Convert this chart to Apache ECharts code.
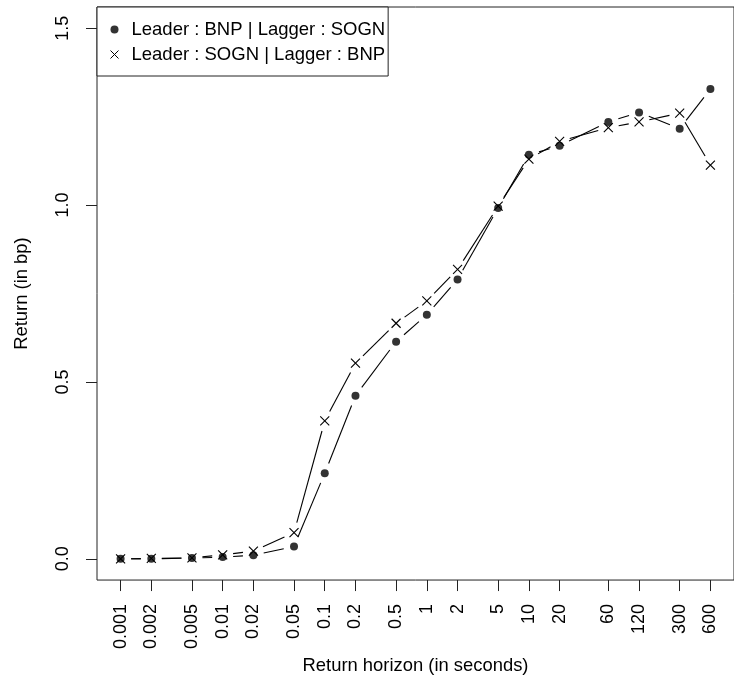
<!DOCTYPE html>
<html>
<head>
<meta charset="utf-8">
<script src="https://cdn.jsdelivr.net/npm/echarts@6/dist/echarts.min.js"></script>
<style>
html,body{margin:0;padding:0;background:#fff;}
#chart{width:734px;height:680px;}
</style>
</head>
<body>
<div id="chart"></div>
<script>
// ---- data ----
const horizons = [0.001, 0.002, 0.005, 0.01, 0.02, 0.05, 0.1, 0.2, 0.5, 1, 2, 5, 10, 20, 60, 120, 300, 600];
const horizonLabels = ["0.001","0.002","0.005","0.01","0.02","0.05","0.1","0.2","0.5","1","2","5","10","20","60","120","300","600"];
const leaderBNP = [0.000, 0.000, 0.002, 0.005, 0.010, 0.035, 0.242, 0.461, 0.614, 0.690, 0.790, 0.992, 1.142, 1.168, 1.235, 1.262, 1.216, 1.328];
const leaderSOGN = [0.000, 0.001, 0.003, 0.011, 0.022, 0.074, 0.390, 0.553, 0.666, 0.729, 0.818, 0.997, 1.130, 1.180, 1.219, 1.235, 1.260, 1.113];
const yTicks = [0, 0.5, 1.0, 1.5];
const seriesNames = ["Leader : BNP | Lagger : SOGN", "Leader : SOGN | Lagger : BNP"];

// ---- build ----
const lx = horizons.map(h => Math.log10(h));
const lmin = Math.min(...lx), lmax = Math.max(...lx);
const span = lmax - lmin;
const xMin = lmin - 0.04 * span, xMax = lmax + 0.04 * span;
const yMin = -0.06, yMax = 1.56;

function pts(ys){ return lx.map((x,i)=>[x, ys[i]]); }
function segs(ys){ const s=[]; for(let i=0;i<lx.length-1;i++) s.push([lx[i],ys[i],lx[i+1],ys[i+1]]); return s; }

const GAP = 10.5;
function segRender(params, api){
  const p1 = api.coord([api.value(0), api.value(1)]);
  const p2 = api.coord([api.value(2), api.value(3)]);
  const dx = p2[0]-p1[0], dy = p2[1]-p1[1];
  const len = Math.sqrt(dx*dx+dy*dy);
  if (len <= 2*GAP) return null;
  const ux = dx/len, uy = dy/len;
  return {type:'line', shape:{x1:p1[0]+ux*GAP, y1:p1[1]+uy*GAP, x2:p2[0]-ux*GAP, y2:p2[1]-uy*GAP},
    style:{stroke:'#000', lineWidth:1.1}};
}
function crossRender(params, api){
  const p = api.coord([api.value(0), api.value(1)]);
  const r = 4.5;
  return {type:'group', children:[
    {type:'line', shape:{x1:p[0]-r,y1:p[1]-r,x2:p[0]+r,y2:p[1]+r}, style:{stroke:'#000', lineWidth:1.1}},
    {type:'line', shape:{x1:p[0]-r,y1:p[1]+r,x2:p[0]+r,y2:p[1]-r}, style:{stroke:'#000', lineWidth:1.1}}
  ]};
}

const FONT = '"Liberation Sans", Arial, Helvetica, sans-serif';
const chart = echarts.init(document.getElementById('chart'), null, {renderer:'canvas'});
chart.setOption({
  animation: false,
  backgroundColor: '#fff',
  textStyle: {fontFamily: FONT, color:'#000'},
  grid: {left: 97, right: -9, top: 7, bottom: 97, show: true, borderColor: '#222', borderWidth: 1, containLabel: false},
  legend: {
    left: 97, top: 7, orient: 'vertical',
    backgroundColor: '#fff',
    borderColor: '#222', borderWidth: 1,
    padding: [13, 3, 12, 11],
    itemGap: 6, itemWidth: 24, itemHeight: 8,
    textStyle: {fontFamily: FONT, fontSize: 18.5, color: '#000', lineHeight: 18},
    selectedMode: false,
    data: [
      {name: seriesNames[0], icon: 'circle', itemStyle: {color: '#000'}},
      {name: seriesNames[1], icon: 'path://M0,0L10,10M10,0L0,10', itemStyle: {color: 'none', borderColor: '#000', borderWidth: 1}}
    ]
  },
  xAxis: {
    type: 'value', min: xMin, max: xMax,
    name: 'Return horizon (in seconds)', nameLocation: 'middle', nameGap: 68,
    nameTextStyle: {fontFamily: FONT, fontSize: 18.4, color: '#000'},
    splitLine: {show: false},
    axisLine: {show: false, onZero: false},
    axisTick: {show: true, length: 11, customValues: lx, lineStyle: {color: '#222'}},
    axisLabel: {
      show: true, rotate: 90, margin: 24, fontSize: 18, color: '#000', fontFamily: FONT,
      customValues: lx,
      formatter: v => { const i = lx.findIndex(x => Math.abs(x - v) < 1e-9); return i >= 0 ? horizonLabels[i] : ''; }
    }
  },
  yAxis: {
    type: 'value', min: yMin, max: yMax,
    name: 'Return (in bp)', nameLocation: 'middle', nameGap: 66,
    nameTextStyle: {fontFamily: FONT, fontSize: 18.4, color: '#000'},
    splitLine: {show: false},
    axisLine: {show: false, onZero: false},
    axisTick: {show: true, length: 11, customValues: yTicks, lineStyle: {color: '#222'}},
    axisLabel: {
      show: true, rotate: 90, margin: 25, fontSize: 18, color: '#000', fontFamily: FONT,
      customValues: yTicks,
      formatter: v => v.toFixed(1)
    }
  },
  series: [
    {type: 'custom', name: seriesNames[0] + ' seg', renderItem: segRender, data: segs(leaderBNP), silent: true, z: 2, encode:{x:[0,2], y:[1,3]}},
    {type: 'scatter', name: seriesNames[0], data: pts(leaderBNP), symbol: 'circle', symbolSize: 8, itemStyle: {color: '#000'}, silent: true, z: 3},
    {type: 'custom', name: seriesNames[1] + ' seg', renderItem: segRender, data: segs(leaderSOGN), silent: true, z: 4, encode:{x:[0,2], y:[1,3]}},
    {type: 'custom', name: seriesNames[1], renderItem: crossRender, data: pts(leaderSOGN), silent: true, z: 5, encode:{x:0, y:1}}
  ]
});
</script>
</body>
</html>
